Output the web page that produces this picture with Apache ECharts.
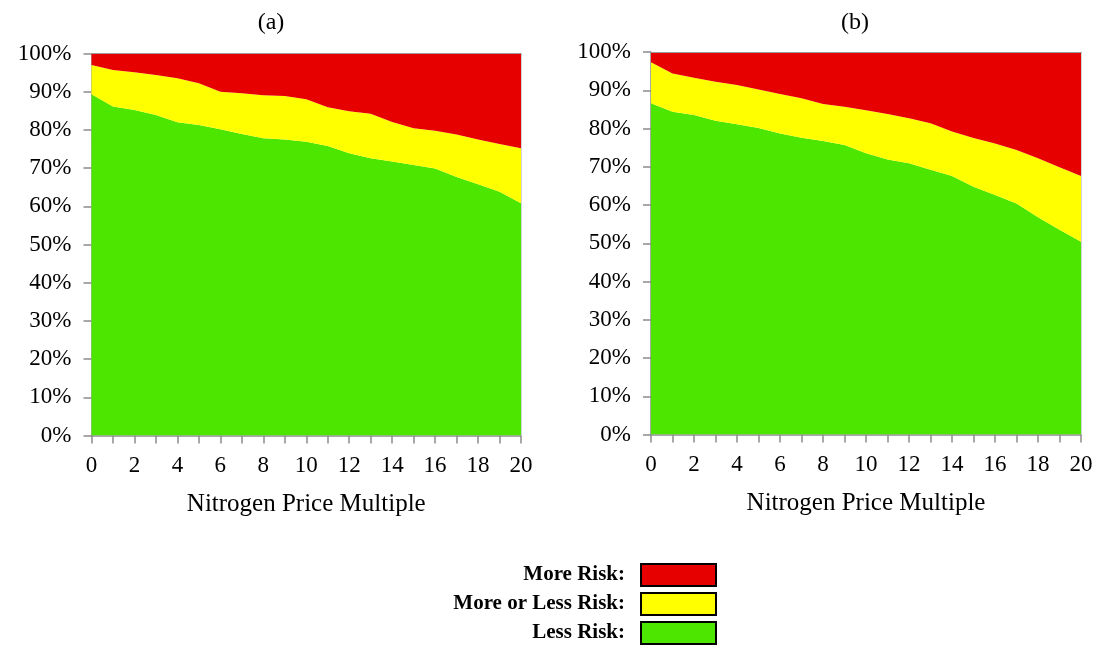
<!DOCTYPE html>
<html><head><meta charset="utf-8">
<script src="https://cdn.jsdelivr.net/npm/echarts@6/dist/echarts.min.js"></script>
<style>html,body{margin:0;padding:0;background:#fff}#c{width:1099px;height:645px}</style>
</head><body><div id="c"></div>
<script>
const xValues = ['0','1','2','3','4','5','6','7','8','9','10','11','12','13','14','15','16','17','18','19','20'];
const seriesNames = ['Less Risk', 'More or Less Risk', 'More Risk'];
const legendOrder = ['More Risk', 'More or Less Risk', 'Less Risk'];
const legendLabels = ['More Risk:', 'More or Less Risk:', 'Less Risk:'];
const panelTitles = ['(a)', '(b)'];
const xAxisTitle = 'Nitrogen Price Multiple';

// Panel (a) shares (%)
const aLess = [89.3,86.1,85.2,83.9,82.0,81.3,80.2,78.9,77.8,77.5,76.9,75.8,73.9,72.6,71.7,70.8,69.9,67.7,65.8,63.8,60.8];
const aMid  = [7.7,9.6,9.9,10.5,11.5,10.9,9.8,10.7,11.3,11.4,11.1,10.1,11.0,11.6,10.4,9.6,9.9,11.1,11.7,12.5,14.4];
const aMore = [3.0,4.3,4.9,5.6,6.5,7.8,10.0,10.4,10.9,11.1,12.0,14.1,15.1,15.8,17.9,19.6,20.2,21.2,22.5,23.7,24.8];
// Panel (b) shares (%)
const bLess = [86.6,84.4,83.5,82.0,81.1,80.1,78.7,77.6,76.7,75.7,73.5,71.9,70.9,69.2,67.6,64.8,62.6,60.4,56.8,53.5,50.4];
const bMid  = [10.7,10.0,9.8,10.2,10.3,10.1,10.3,10.3,9.7,10.0,11.3,11.9,11.8,12.2,11.6,12.7,13.5,14.0,15.4,16.4,17.2];
const bMore = [2.7,5.6,6.7,7.8,8.6,9.8,11.0,12.1,13.6,14.3,15.2,16.2,17.3,18.6,20.8,22.5,23.9,25.6,27.8,30.1,32.4];

const colors = {'Less Risk':'#4CE600','More or Less Risk':'#FFFF00','More Risk':'#E60000'};
const FONT = '"Liberation Serif", "Times New Roman", serif';
const axisGray = '#8C8C8C';

function mkX(idx){
  return {
    type:'category', gridIndex:idx, data:xValues, boundaryGap:false,
    axisLine:{show:true, lineStyle:{color:axisGray, width:1.5}},
    axisTick:{show:true, length:8, interval:0, lineStyle:{color:axisGray, width:1.5}},
    splitLine:{show:false},
    axisLabel:{color:'#000', fontFamily:FONT, fontSize:23, margin:19, interval:1},
    name:xAxisTitle, nameLocation:'middle', nameGap:56,
    nameTextStyle:{color:'#000', fontFamily:FONT, fontSize:25}
  };
}
function mkY(idx){
  return {
    type:'value', gridIndex:idx, min:0, max:100, interval:10,
    axisLine:{show:true, lineStyle:{color:axisGray, width:1.5}},
    axisTick:{show:true, length:8, lineStyle:{color:axisGray, width:1.5}},
    splitLine:{show:false},
    axisLabel:{color:'#000', fontFamily:FONT, fontSize:23, margin:20, formatter:'{value}%'}
  };
}
function mkTopX(idx){
  return {type:'category', gridIndex:idx, data:xValues, boundaryGap:false, position:'top',
    axisLine:{show:true, onZero:false, lineStyle:{color:'#9A9A9A', width:1}}, axisTick:{show:false},
    axisLabel:{show:false}, splitLine:{show:false}, z:10};
}
function mkRightY(idx){
  return {type:'value', gridIndex:idx, min:0, max:100, position:'right',
    axisLine:{show:true, onZero:false, lineStyle:{color:'rgba(200,200,200,0.8)', width:1}}, axisTick:{show:false},
    axisLabel:{show:false}, splitLine:{show:false}, z:10};
}
function mkSeries(idx, name, vals){
  return {
    type:'line', name:name, xAxisIndex:idx, yAxisIndex:idx, stack:'s'+idx,
    data:vals, symbol:'none', showSymbol:false,
    lineStyle:{width:0}, areaStyle:{color:colors[name], opacity:1},
    itemStyle:{color:colors[name]}, emphasis:{disabled:true}, silent:true
  };
}

const chart = echarts.init(document.getElementById('c'), null, {renderer:'canvas'});
chart.setOption({
  animation:false,
  backgroundColor:'#fff',
  title:[
    {text:panelTitles[0], left:266, top:6, textAlign:'center', textStyle:{fontFamily:FONT, fontSize:24, fontWeight:'normal', color:'#000'}},
    {text:panelTitles[1], left:850, top:6, textAlign:'center', textStyle:{fontFamily:FONT, fontSize:24, fontWeight:'normal', color:'#000'}}
  ],
  grid:[
    {left:91.5, top:53.5, width:429.5, height:382},
    {left:651, top:52, width:430, height:382.5}
  ],
  xAxis:[mkX(0), mkX(1), mkTopX(0), mkTopX(1)],
  yAxis:[mkY(0), mkY(1), mkRightY(0), mkRightY(1)],
  legend:{
    data:legendOrder,
    orient:'vertical', align:'right', right:382, top:563, padding:0,
    itemWidth:75, itemHeight:22, itemGap:5, icon:'rect',
    itemStyle:{borderColor:'#000', borderWidth:2},
    formatter:n => legendLabels[legendOrder.indexOf(n)],
    textStyle:{fontFamily:FONT, fontSize:21, fontWeight:'bold', color:'#000', padding:[0,11,0,0]},
    selectedMode:false
  },
  series:[
    mkSeries(0,seriesNames[0],aLess), mkSeries(0,seriesNames[1],aMid), mkSeries(0,seriesNames[2],aMore),
    mkSeries(1,seriesNames[0],bLess), mkSeries(1,seriesNames[1],bMid), mkSeries(1,seriesNames[2],bMore)
  ]
});
</script></body></html>
